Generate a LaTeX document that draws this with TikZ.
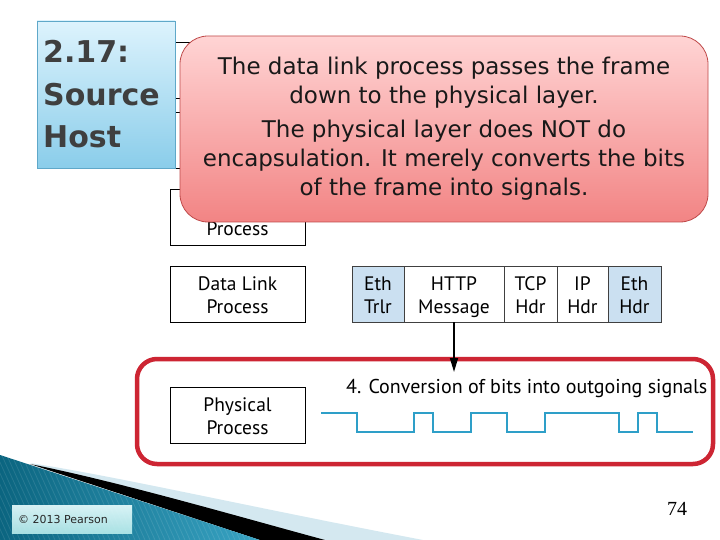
\documentclass[tikz,border=0pt]{standalone}
\usepackage{fontspec}
\usetikzlibrary{arrows.meta}
\newfontfamily\calfont{DejaVu Sans}
\newfontfamily\diagfont{PT Sans}
\newfontfamily\numfont{Liberation Serif}
\definecolor{titletop}{HTML}{DDF3FD}
\definecolor{titlebot}{HTML}{8ACDEA}
\definecolor{titleborder}{HTML}{5FA8C9}
\definecolor{caltop}{HTML}{FFD4D4}
\definecolor{calbot}{HTML}{F28484}
\definecolor{calborder}{HTML}{BF4A4A}
\definecolor{framered}{HTML}{CD2533}
\definecolor{cellblue}{HTML}{CBE0F1}
\definecolor{wavecol}{HTML}{2E9FC8}
\definecolor{bandcol}{HTML}{D4E8F0}
\definecolor{tealdark}{HTML}{0B6580}
\definecolor{teallight}{HTML}{3AA6C6}
\definecolor{titletext}{HTML}{3F3F3F}
\tikzset{
  procbox/.style={draw=black, line width=0.9pt, fill=white, minimum width=135pt,
    minimum height=56pt, inner sep=0pt, align=center,
    font=\diagfont\fontsize{19.5}{23}\selectfont},
  cellbox/.style={draw=black!75, line width=0.8pt, minimum height=56pt, inner sep=0pt,
    align=center, font=\diagfont\fontsize{19.5}{23}\selectfont},
  bluecell/.style={cellbox, fill=cellblue},
  whitecell/.style={cellbox, fill=white},
  titlebig/.style={anchor=base west, inner sep=0pt, text=titletext,
    font=\calfont\bfseries\fontsize{30}{36}\selectfont},
  wave/.style={draw=wavecol, line width=2.2pt, line join=miter},
  arr/.style={draw=black, line width=1.6pt, -{Triangle[length=14pt,width=8pt]}}
}
\begin{document}
\begin{tikzpicture}[x=1pt,y=-1pt]
\useasboundingbox (0,0) rectangle (720,540);
\fill[white] (0,0) rectangle (720,540);

% bottom-left decoration
\fill[bandcol] (30,463) .. controls (120,477) and (240,505) .. (423,540) -- (260,540) -- cycle;
\fill[black] (30,464) .. controls (120,482) and (240,517) .. (325,540) -- (260,540) -- cycle;
\begin{scope}
  \clip (0,455) -- (260,540) -- (0,540) -- cycle;
  \shade[left color=tealdark, right color=teallight] (0,440) rectangle (270,540);
  \foreach \i in {-120,-115,...,300} {
    \draw[white, opacity=0.10, line width=0.8pt] (\i,440) -- (\i+45,540);
  }
\end{scope}
\node (copy) [minimum width=120pt, minimum height=28pt, inner sep=0pt,
  top color=white!70!cyan!25, bottom color=cyan!15!white!85!teal,
  opacity=0.9, text opacity=1] at (72,519) {};
\node (copytext) [anchor=base west, inner sep=0pt, text=black!85,
  font=\calfont\fontsize{11}{13}\selectfont] at (18,523) {© 2013 Pearson};

% boxes hidden behind the callout
\node (boxA) [procbox] at (237.5,70) {};
\node (boxB) [procbox] at (237.5,140.5) {};
\node (boxC) [procbox] at (237.5,217) {};
\node (boxCtext) [anchor=base, inner sep=0pt, font=\diagfont\fontsize{19.5}{23}\selectfont]
  at (237.5,236) {Process};

% title box
\node (title) [draw=titleborder, line width=0.8pt, top color=titletop, bottom color=titlebot,
  minimum width=138pt, minimum height=147pt, inner sep=0pt] at (106,94.5) {};
\node (t1) [titlebig] at (43,63) {2.17:};
\node (t2) [titlebig] at (43,106) {Source};
\node (t3) [titlebig] at (43,148) {Host};

% callout
\node (callout) [draw=calborder, line width=0.8pt, rounded corners=28pt,
  top color=caltop, bottom color=calbot, minimum width=528pt, minimum height=186pt,
  inner sep=0pt, align=center, text=black!90,
  font=\calfont\fontsize{23}{29}\selectfont] at (444,129)
  {The data link process passes the frame\\ down to the physical layer.\\[5pt]
   The physical layer does NOT do\\ encapsulation. It merely converts the bits\\
   of the frame into signals.};

% data link and physical
\node (dl) [procbox] at (237.5,294) {\strut Data Link\\\smash{Process}};

% frame
\node (ethtrlr) [bluecell, minimum width=52pt] at (378,294) {\strut Eth\\\smash{Trlr}};
\node (http) [whitecell, minimum width=100pt] at (454,294) {\strut HTTP\\\smash{Message}};
\node (tcp) [whitecell, minimum width=53pt] at (530.5,294) {\strut TCP\\\smash{Hdr}};
\node (ip) [whitecell, minimum width=51pt] at (582.5,294) {\strut IP\\\smash{Hdr}};
\node (ethhdr) [bluecell, minimum width=53pt] at (634.5,294) {\strut Eth\\\smash{Hdr}};

% red frame
\draw[framered, line width=4.5pt, rounded corners=20pt] (137,359) rectangle (713,464);
\node (phys) [procbox] at (237.5,415) {\strut Physical\\\smash{Process}};
\node (conv) [anchor=base west, inner sep=0pt, font=\diagfont\fontsize{20}{24}\selectfont]
  at (346,393) {4. Conversion of bits into outgoing signals};

\coordinate (tip) at (454,372);
\draw[arr] (http.south) -- (tip);

% signal
\draw[wave] (321,413) -- (357,413) -- (357,432) -- (414,432) -- (414,413) -- (433,413)
  -- (433,432) -- (471,432) -- (471,413) -- (507,413) -- (507,432) -- (545,432)
  -- (545,413) -- (619,413) -- (619,432) -- (638,432) -- (638,413) -- (657,413)
  -- (657,432) -- (693,432);

% page number
\node (pagenum) [inner sep=0pt, font=\numfont\fontsize{20}{24}\selectfont] at (677,509) {74};
\end{tikzpicture}
\end{document}
